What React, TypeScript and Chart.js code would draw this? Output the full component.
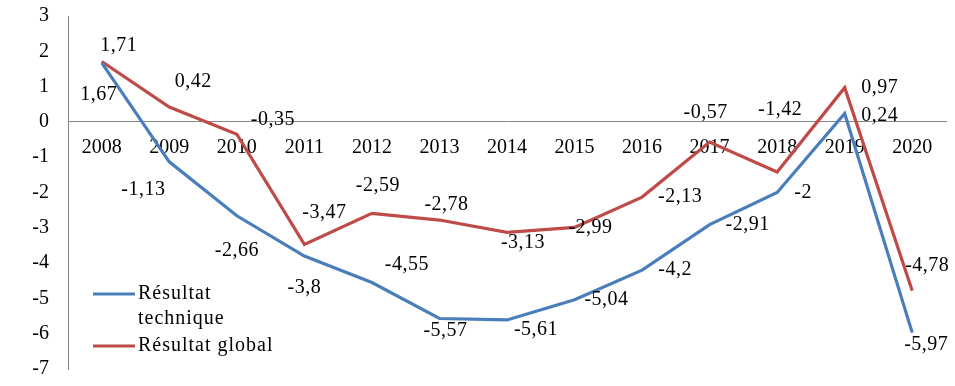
import { useEffect, useRef } from "react";
import { Chart, registerables } from "chart.js";

Chart.register(...registerables);

const years = ["2008", "2009", "2010", "2011", "2012", "2013", "2014", "2015", "2016", "2017", "2018", "2019", "2020"];
const resultatTechnique = [1.67, -1.13, -2.66, -3.8, -4.55, -5.57, -5.61, -5.04, -4.2, -2.91, -2, 0.24, -5.97];
const resultatGlobal = [1.71, 0.42, -0.35, -3.47, -2.59, -2.78, -3.13, -2.99, -2.13, -0.57, -1.42, 0.97, -4.78];
const seriesNames = ["Résultat technique", "Résultat global"];
const yMin = -7;
const yMax = 3;

// label placement (pixel offsets from each point), as set in the original
const techniqueLabelOffsets = [
  [-3, 32], [-26, 28], [0, 35], [0, 32], [35, -18], [6, 12], [29, 10],
  [32, 0], [33, 0], [38, 0], [26, 0], [35, 2], [14, 12],
];
const globalLabelOffsets = [
  [17, -16], [24, -25], [36, -15], [20, -32], [6, -28], [7, -15], [16, 10],
  [16, 0], [38, 0], [-4, -29], [3, -62], [35, 0], [15, -25],
];

const FAMILY = "'Liberation Serif', 'DejaVu Serif', serif";
const SIZE = 20;
const FONT = `${SIZE}px ${FAMILY}`;
const BLUE = "#4A7EBB";
const RED = "#BE4B48";

const fmt = (v: number) => String(v).replace(".", ",");

const labelPlugin = {
  id: "pointLabels",
  afterDatasetsDraw(chart: any) {
    const ctx = chart.ctx;
    const offsets = [techniqueLabelOffsets, globalLabelOffsets];
    ctx.save();
    ctx.font = FONT;
    ctx.fillStyle = "#000";
    ctx.textAlign = "center";
    ctx.textBaseline = "middle";
    try { (ctx as any).letterSpacing = "0.5px"; } catch (e) {}
    chart.data.datasets.forEach((ds: any, i: number) => {
      const meta = chart.getDatasetMeta(i);
      meta.data.forEach((el: any, j: number) => {
        const [dx, dy] = offsets[i][j];
        ctx.fillText(fmt(ds.data[j]), el.x + dx, el.y + dy);
      });
    });

    // legend
    const left = chart.chartArea.left;
    const items = [
      { color: BLUE, lines: ["Résultat", "technique"], y: 294 },
      { color: RED, lines: ["Résultat global"], y: 346 },
    ];
    ctx.textAlign = "left";
    try { (ctx as any).letterSpacing = "1px"; } catch (e) {}
    items.forEach((it) => {
      ctx.strokeStyle = it.color;
      ctx.lineWidth = 3;
      ctx.beginPath();
      ctx.moveTo(left + 25, it.y);
      ctx.lineTo(left + 67, it.y);
      ctx.stroke();
      it.lines.forEach((t, k) => {
        ctx.fillText(t, left + 70, it.y + k * 25);
      });
    });
    ctx.restore();
  },
};

export default function App() {
  const ref = useRef<HTMLCanvasElement>(null);
  useEffect(() => {
    if (!ref.current) return;
    const chart = new Chart(ref.current, {
      type: "line",
      data: {
        labels: years,
        datasets: [
          {
            label: seriesNames[0],
            data: resultatTechnique,
            borderColor: BLUE,
            backgroundColor: BLUE,
            borderWidth: 3.2,
            pointRadius: 0,
            tension: 0,
          },
          {
            label: seriesNames[1],
            data: resultatGlobal,
            borderColor: RED,
            backgroundColor: RED,
            borderWidth: 3.2,
            pointRadius: 0,
            tension: 0,
          },
        ],
      },
      options: {
        animation: false,
        responsive: true,
        maintainAspectRatio: false,
        layout: { padding: { top: 16, bottom: 17, left: 0, right: 9 } },
        plugins: {
          legend: { display: false },
          tooltip: { enabled: false },
        },
        scales: {
          x: {
            type: "category",
            offset: true,
            position: { y: 0 } as any,
            grid: { display: false, drawTicks: false },
            border: { color: "#868686", width: 1 },
            ticks: {
              color: "#000",
              font: { family: FAMILY, size: SIZE },
              padding: 14,
              maxRotation: 0,
              autoSkip: false,
            },
            afterFit: (scale: any) => {
              scale.height = 0;
              scale.paddingTop = 0;
              scale.paddingBottom = 0;
            },
          },
          y: {
            min: yMin,
            max: yMax,
            grid: { display: false, drawTicks: false },
            border: { color: "#868686", width: 1 },
            ticks: {
              stepSize: 1,
              color: "#000",
              font: { family: FAMILY, size: SIZE },
              padding: 19,
            },
            afterFit: (scale: any) => {
              scale.width = 68;
              scale.paddingTop = 0;
              scale.paddingBottom = 0;
            },
          },
        },
      },
      plugins: [labelPlugin],
    });
    return () => chart.destroy();
  }, []);
  return (
    <div style={{ position: "fixed", left: 0, top: 0, width: 955, height: 386 }}>
      <canvas ref={ref} />
    </div>
  );
}
